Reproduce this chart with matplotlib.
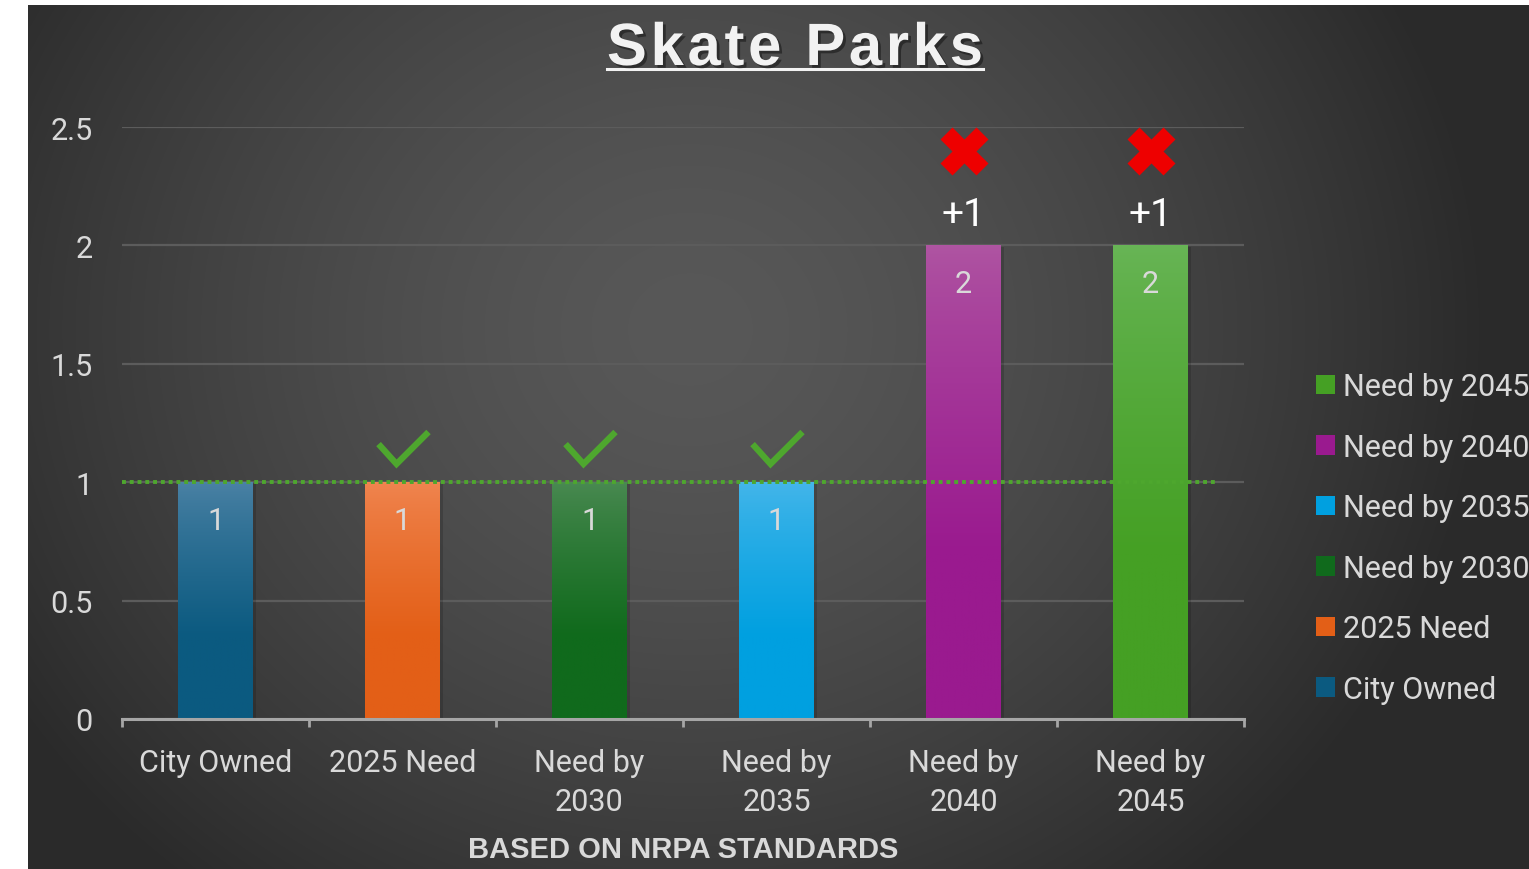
import numpy as np
import matplotlib
matplotlib.use("Agg")
import matplotlib.pyplot as plt
from matplotlib.patches import Rectangle
from matplotlib.lines import Line2D
from matplotlib.colors import to_rgb
import matplotlib.patheffects as pe

# ---------------- data ----------------
categories = ["City Owned", "2025 Need", "Need by 2030", "Need by 2035", "Need by 2040", "Need by 2045"]
tick_labels = ["City Owned", "2025 Need", "Need by\n2030", "Need by\n2035", "Need by\n2040", "Need by\n2045"]
values = [1, 1, 1, 1, 2, 2]
bottom_colors = ["#0B5A80", "#E35F17", "#106A1C", "#00A0E0", "#9A1A8F", "#45A024"]
top_colors = ["#4B82A5", "#F08550", "#4A8A52", "#45B6EA", "#AF55A2", "#68B556"]
y_ticks = [0, 0.5, 1, 1.5, 2, 2.5]
y_tick_labels = ["0", "0.5", "1", "1.5", "2", "2.5"]
title = "Skate Parks"
subtitle = "BASED ON NRPA STANDARDS"

FONT = "Roboto"
FS = 22
TXT = "#d9d9d9"
W, H = 1529, 870

fig = plt.figure(figsize=(W / 100, H / 100), dpi=100)
fig.patch.set_facecolor("white")

# ---------------- background (radial gradient) ----------------
bg = fig.add_axes([28 / W, 0, 1 - 28 / W, 1 - 6 / H])
bg.set_axis_off()
yy, xx = np.mgrid[6:H, 28:W]
r = np.sqrt(((xx - 690) / 800.0) ** 2 + ((yy - 330) / 720.0) ** 2)
v = (88 - 46 * np.clip(r, 0, 1) ** 1.5) / 255.0
bg.imshow(np.dstack([v, v, v]), aspect="auto", extent=[0, 1, 0, 1], interpolation="bilinear")
bg.set_xlim(0, 1)
bg.set_ylim(0, 1)

# ---------------- main axes ----------------
ax = fig.add_axes([122 / W, 1 - 720 / H, (1244 - 122) / W, (720 - 128) / H])
ax.set_facecolor("none")
x = np.arange(len(categories))

bars = ax.bar(x, values, width=0.40, color=bottom_colors, zorder=2,
              path_effects=[pe.SimplePatchShadow(offset=(2, -1), shadow_rgbFace="black", alpha=0.15), pe.Normal()])

# gradient fill per bar
for b, c_top, c_bot in zip(bars, top_colors, bottom_colors):
    x0, w, h = b.get_x(), b.get_width(), b.get_height()
    t = np.linspace(0, 1, 200)
    t = np.clip(t / 0.65, 0, 1) ** 0.8
    ct, cb = np.array(to_rgb(c_top)), np.array(to_rgb(c_bot))
    grad = ct[None, :] + (cb - ct)[None, :] * t[:, None]
    im = ax.imshow(grad[:, None, :], extent=[x0, x0 + w, 0, h], aspect="auto",
                   interpolation="bilinear", zorder=2.1, origin="upper")
    im.set_clip_path(b)

ax.set_xlim(-0.5, len(categories) - 0.5)
ax.set_ylim(y_ticks[0], y_ticks[-1])

# grid
ax.set_yticks(y_ticks, y_tick_labels)
ax.yaxis.grid(True, color="#5c5c5c", lw=1.6, zorder=0)
ax.set_axisbelow(True)
for s in ["top", "right", "left"]:
    ax.spines[s].set_visible(False)
ax.spines["bottom"].set_color("#a6a6a6")
ax.spines["bottom"].set_linewidth(2.2)
ax.spines["bottom"].set_zorder(3)

ax.set_xticks(x, tick_labels)
ax.set_xticks(np.arange(-0.5, len(categories), 1), minor=True)
ax.tick_params(axis="x", which="major", length=0, pad=21, labelsize=FS, labelcolor=TXT)
ax.tick_params(axis="x", which="minor", length=6, width=2, color="#a6a6a6", direction="out")
ax.tick_params(axis="y", length=0, pad=21, labelsize=FS, labelcolor=TXT)
for lab in ax.get_xticklabels() + ax.get_yticklabels():
    lab.set_fontfamily(FONT)
for lab in ax.get_xticklabels():
    lab.set_linespacing(1.42)

# reference line at city-owned level
ax.axhline(values[0], xmin=0, xmax=(1218 - 122) / (1244 - 122), color="#4EA72E",
           lw=2.8, ls=(0, (1, 1)), zorder=4)

# value labels inside bars, and status marks above
for i, val in enumerate(values):
    ax.text(i, val - 0.198, f"{val}", ha="center", va="baseline", fontsize=FS,
            color=TXT, family=FONT, zorder=5)
    if i == 0:
        continue
    diff = val - values[0]
    if diff <= 0:
        ax.plot([i - 0.128, i - 0.032, i + 0.139], [val + 0.161, val + 0.077, val + 0.212],
                color="#4EA72E", lw=4.5, solid_capstyle="butt", solid_joinstyle="miter", zorder=5)
    else:
        ax.text(i, val + 0.086, f"+{diff}", ha="center", va="baseline", fontsize=28,
                color="white", family=FONT, zorder=5)
        ax.plot([i], [val + 0.40], marker="X", ms=34, color="#EE0000", mec="none", zorder=5)

# legend
handles = [Rectangle((0, 0), 1, 1, facecolor=c) for c in bottom_colors]
leg = fig.legend(handles[::-1], categories[::-1], loc="center left",
                 bbox_to_anchor=(1316 / W, 1 - 539 / H), frameon=False,
                 prop={"family": FONT, "size": FS}, labelcolor=TXT,
                 handlelength=0.62, handleheight=0.62, handletextpad=0.25,
                 labelspacing=1.03, borderpad=0, borderaxespad=0)

# title with letter spacing
renderer = fig.canvas.get_renderer()
tprops = dict(fontsize=43, fontweight="bold", family="Liberation Sans", color="#f2f2f2",
              va="baseline", ha="left",
              path_effects=[pe.withSimplePatchShadow(offset=(2, -2), shadow_rgbFace="black", alpha=0.4)])
widths = []
for ch in title:
    tt = fig.text(0, 0, ch if ch != " " else "-", **tprops)
    widths.append(tt.get_window_extent(renderer).width if ch != " " else 0.278 * 43 * 100 / 72)
    tt.remove()
target_w = 983 - 607
gap = (target_w - sum(widths)) / (len(title) - 1)
xpos = 607
for ch, w in zip(title, widths):
    if ch != " ":
        fig.text(xpos / W, 1 - 66 / H, ch, **tprops)
    xpos += w + gap
fig.add_artist(Line2D([607 / W, 983 / W], [1 - 69.5 / H] * 2, color="#f2f2f2", lw=2.2))

# subtitle
fig.text(683 / W, 1 - 858 / H, subtitle, ha="center", va="baseline", fontsize=21,
         fontweight="bold", family="Liberation Sans", color=TXT)

fig.savefig("out.png", dpi=100, facecolor=fig.get_facecolor())
